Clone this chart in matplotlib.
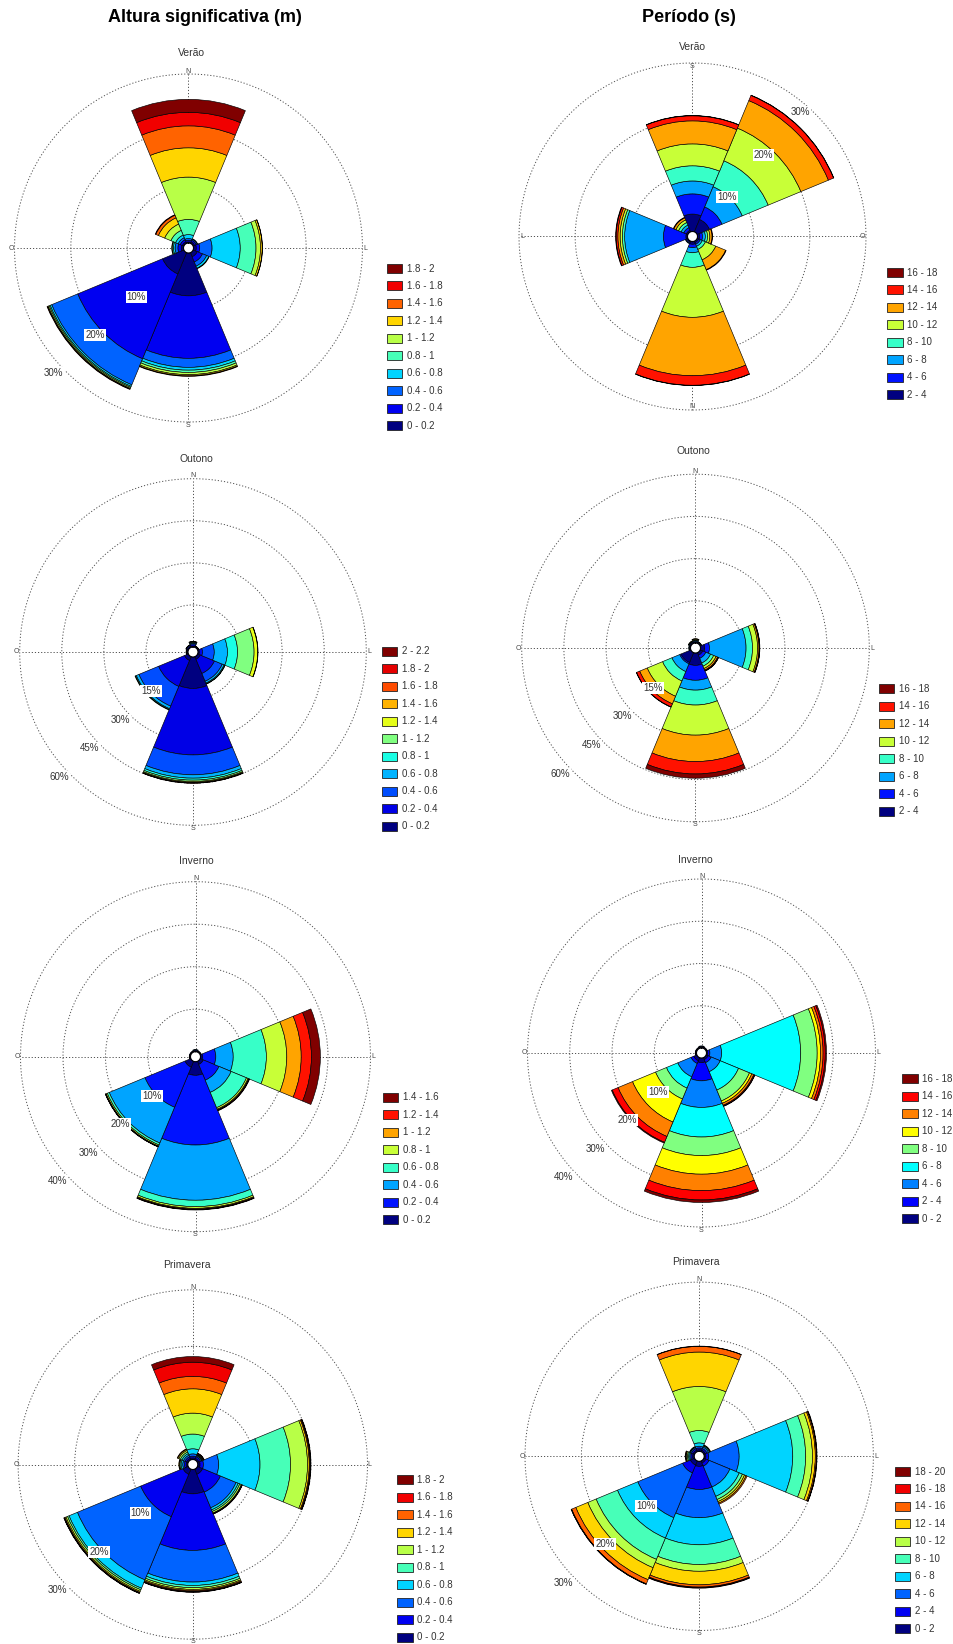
import numpy as np
import matplotlib
matplotlib.use('Agg')
import matplotlib.pyplot as plt
from matplotlib.patches import Patch

plt.rcParams['font.family'] = ['Liberation Sans', 'DejaVu Sans']

W, H = 954, 1644
fig = plt.figure(figsize=(W / 100, H / 100), dpi=100)
fig.patch.set_facecolor('white')

# Sector centres (compass bearing, degrees): N, NE, E, SE, S, SW, W, NW
directions = [0, 45, 90, 135, 180, 225, 270, 315]

# Class labels
hs_bins_10 = ['0 - 0.2', '0.2 - 0.4', '0.4 - 0.6', '0.6 - 0.8', '0.8 - 1',
              '1 - 1.2', '1.2 - 1.4', '1.4 - 1.6', '1.6 - 1.8', '1.8 - 2']
hs_bins_11 = hs_bins_10 + ['2 - 2.2']
hs_bins_8 = hs_bins_10[:8]
tp_bins_2_18 = ['2 - 4', '4 - 6', '6 - 8', '8 - 10', '10 - 12', '12 - 14',
                '14 - 16', '16 - 18']
tp_bins_0_18 = ['0 - 2'] + tp_bins_2_18
tp_bins_0_20 = tp_bins_0_18 + ['18 - 20']

# Frequencies (%) per direction (rows N..NW) and class (columns)
hs_verao = [
    [0.2, 0.3, 0.3, 0.7, 2.7, 7.5, 5.2, 3.9, 2.4, 2.3],
    [0.3, 0.3, 0.2, 0.1, 0, 0, 0, 0, 0, 0],
    [0.5, 0.6, 2.2, 5.0, 2.8, 0.8, 0.3, 0.05, 0, 0],
    [0.8, 1.0, 0.8, 0.4, 0.1, 0, 0, 0, 0, 0],
    [7.6, 11.1, 1.6, 0.5, 0.4, 0.4, 0.2, 0.1, 0, 0],
    [4.1, 16.3, 5.0, 0.3, 0.2, 0.2, 0.1, 0.1, 0, 0],
    [0.4, 0.6, 0.5, 0.3, 0.2, 0.1, 0, 0, 0, 0],
    [0.3, 0.4, 0.4, 0.5, 0.9, 1.2, 1.2, 0.5, 0.1, 0],
]
tp_verao = [
    [0.5, 0.6, 0.9, 2.6, 8.9, 10.4, 1.7, 0.05],
    [0.2, 0.2, 0.1, 0, 0, 0, 0, 0],
    [0.3, 4.0, 6.9, 0.4, 0.4, 0.4, 0.3, 0.1],
    [0.3, 0.5, 0.5, 0.5, 0.5, 0.4, 0.1, 0],
    [3.1, 3.6, 2.3, 2.7, 3.9, 4.1, 0.9, 0.05],
    [2.4, 2.4, 3.9, 5.0, 6.3, 5.3, 1.0, 0.05],
    [0.4, 0.5, 0.5, 0.4, 0.4, 0.4, 0.1, 0],
    [0.3, 0.3, 0.4, 0.6, 2.0, 1.9, 0.1, 0],
]
hs_outono = [
    [0.3, 0.5, 0.4, 0.3, 0.2, 0.2, 0.1, 0, 0, 0, 0],
    [0.2, 0.2, 0.1, 0, 0, 0, 0, 0, 0, 0, 0],
    [0.5, 1.1, 4.2, 4.7, 3.6, 5.9, 1.3, 0.1, 0, 0, 0],
    [1.0, 5.5, 3.0, 0.7, 0.3, 0.1, 0, 0, 0, 0, 0],
    [11.2, 23.7, 7.1, 1.2, 0.7, 0.5, 0.3, 0.2, 0.1, 0, 0],
    [1.5, 10.0, 7.6, 1.0, 0.3, 0.2, 0, 0, 0, 0, 0],
    [0.3, 0.3, 0.1, 0, 0, 0, 0, 0, 0, 0, 0],
    [0.3, 0.4, 0.2, 0.1, 0, 0, 0, 0, 0, 0, 0],
]
tp_outono = [
    [0.3, 0.3, 0.3, 0.2, 0.3, 0.1, 0, 0],
    [0.3, 0.2, 0.1, 0, 0, 0, 0, 0],
    [1.5, 1.7, 13.0, 2.3, 1.8, 0.5, 0.2, 0.1],
    [1.0, 1.2, 1.8, 1.2, 0.9, 0.6, 0.3, 0.1],
    [4.4, 5.3, 3.5, 5.3, 10.7, 9.4, 4.4, 1.5],
    [3.8, 0.5, 3.0, 3.6, 5.9, 2.9, 1.2, 0.1],
    [0.3, 0.2, 0.1, 0, 0, 0, 0, 0],
    [0.3, 0.3, 0.2, 0.1, 0.1, 0, 0, 0],
]
hs_inverno = [
    [0.2, 0.2, 0.1, 0, 0, 0, 0, 0],
    [0.2, 0.1, 0, 0, 0, 0, 0, 0],
    [0.5, 3.1, 4.1, 7.8, 4.8, 3.4, 2.4, 2.1],
    [0.8, 4.0, 3.1, 3.9, 0.4, 0.2, 0.1, 0.1],
    [3.2, 16.4, 13.0, 1.5, 0.4, 0.2, 0.1, 0.1],
    [1.5, 10.2, 9.1, 0.5, 0.3, 0.1, 0.05, 0.05],
    [0.2, 0.1, 0, 0, 0, 0, 0, 0],
    [0.2, 0.1, 0, 0, 0, 0, 0, 0],
]
tp_inverno = [
    [0.2, 0.2, 0.1, 0, 0, 0, 0, 0, 0],
    [0.2, 0.1, 0, 0, 0, 0, 0, 0, 0],
    [0.3, 0.5, 2.8, 18.7, 3.9, 0.8, 0.6, 0.5, 0.3],
    [0.5, 0.8, 2.3, 4.7, 2.8, 0.6, 0.5, 0.2, 0.1],
    [1.1, 4.3, 6.3, 7.0, 4.4, 4.4, 3.9, 2.2, 0.6],
    [0.8, 0.7, 3.4, 2.9, 2.8, 5.9, 3.7, 1.5, 0.2],
    [0.2, 0.1, 0, 0, 0, 0, 0, 0, 0],
    [0.2, 0.1, 0, 0, 0, 0, 0, 0, 0],
]
hs_primavera = [
    [0.3, 0.3, 0.4, 0.9, 2.6, 3.7, 4.3, 2.2, 2.5, 1.0],
    [0.3, 0.3, 0.2, 0.1, 0.1, 0.1, 0.1, 0.05, 0.05, 0],
    [0.4, 0.6, 2.7, 7.3, 5.4, 3.0, 0.3, 0.15, 0.1, 0.05],
    [1.0, 3.4, 3.0, 0.4, 0.3, 0.3, 0.1, 0.05, 0.05, 0],
    [4.3, 10.0, 5.6, 0.6, 0.4, 0.3, 0.2, 0.15, 0.1, 0.05],
    [1.0, 8.1, 12.1, 1.6, 0.3, 0.3, 0.2, 0.1, 0.05, 0.05],
    [0.3, 0.3, 0.3, 0.3, 0.2, 0.1, 0.1, 0, 0, 0],
    [0.3, 0.3, 0.3, 0.3, 0.3, 0.3, 0.2, 0.1, 0, 0],
]
tp_primavera = [
    [0.3, 0.3, 0.3, 0.6, 2.2, 7.8, 6.1, 1.0, 0.05, 0],
    [0.3, 0.3, 0.3, 0.2, 0.1, 0.1, 0, 0, 0, 0],
    [0.3, 0.5, 5.4, 9.5, 2.3, 1.2, 0.5, 0.2, 0.05, 0.05],
    [0.4, 0.6, 4.0, 1.8, 0.6, 0.4, 0.3, 0.2, 0, 0],
    [0.9, 4.1, 5.0, 4.8, 3.5, 1.2, 2.4, 0.4, 0.1, 0.1],
    [0.8, 1.5, 8.6, 3.9, 4.1, 1.6, 2.3, 0.8, 0.05, 0.05],
    [0.3, 0.3, 0.2, 0.2, 0.2, 0.2, 0.1, 0.1, 0, 0],
    [0.3, 0.3, 0.2, 0.1, 0.1, 0, 0, 0, 0, 0],
]

GRID_COLOR = '#505050'
DOTS = (0, (1.2, 2.0))


def jet_classic(n):
    """Classic piecewise-linear jet palette sampled at n evenly spaced points."""
    x = np.linspace(0, 1, n)
    r = np.interp(x, [0, 0.375, 0.625, 0.875, 1], [0, 0, 1, 1, 0.5])
    g = np.interp(x, [0, 0.125, 0.375, 0.625, 0.875, 1], [0, 0, 1, 1, 0, 0])
    b = np.interp(x, [0, 0.125, 0.375, 0.625, 1], [0.5, 1, 1, 0, 0])
    return np.column_stack([r, g, b])


def px_rect(cx, cy, r):
    return [(cx - r) / W, 1 - (cy + r) / H, 2 * r / W, 2 * r / H]


def rose(cx, cy, R, rmax, rings, freqs, bins, title, title_xy, legend_xy,
         label_angle, label_off_px, zero='N', compass_off_px=3.0):
    ax = fig.add_axes(px_rect(cx, cy, R), projection='polar')
    ax.set_theta_zero_location(zero)
    ax.set_theta_direction(-1)
    hole = 5.0 / R
    ax.set_ylim(0, rmax)
    ax.set_rorigin(-rmax * hole / (1 - hole))
    ax.set_axisbelow(True)
    pct_per_px = rmax / (R * (1 - hole))

    ax.set_rgrids(rings, labels=[''] * len(rings))
    ax.set_thetagrids([0, 90, 180, 270], labels=[''] * 4)
    ax.grid(True, color=GRID_COLOR, linestyle=DOTS, linewidth=0.7)
    ax.spines['polar'].set_visible(False)
    t = np.linspace(0, 2 * np.pi, 361)
    ax.plot(t, np.full_like(t, rmax), color=GRID_COLOR, linestyle=DOTS,
            linewidth=0.7, clip_on=False, zorder=1)

    # compass letters on the outer ring
    for ang, txt in zip([0, 90, 180, 270], ['N', 'L', 'S', 'O']):
        ax.text(np.deg2rad(ang), rmax + compass_off_px * pct_per_px, txt,
                ha='center', va='center', fontsize=5, color='#444444',
                clip_on=False, zorder=6)

    data = np.array(freqs, dtype=float)
    nb = data.shape[1]
    colors = jet_classic(nb)
    theta = np.deg2rad(directions)
    bottoms = np.zeros(len(directions))
    for j in range(nb):
        h = data[:, j]
        m = h > 0
        ax.bar(theta[m], h[m], width=np.deg2rad(45), bottom=bottoms[m],
               color=colors[j], edgecolor='black', linewidth=0.45, zorder=3)
        bottoms += h

    # central hole outline
    ax.plot(t, np.zeros_like(t), color='black', lw=0.9, zorder=4)

    # percentage labels on the rings
    for v in rings + [rmax]:
        ax.text(np.deg2rad(label_angle), v + label_off_px * pct_per_px,
                f'{v}%', ha='center', va='center', fontsize=7,
                color='#333333', zorder=5, clip_on=False,
                bbox=dict(facecolor='white', edgecolor='none', pad=0.8))

    fig.text(title_xy[0] / W, 1 - title_xy[1] / H, title, ha='center',
             va='center', fontsize=7.5, color='#333333')

    handles = [Patch(facecolor=colors[j], edgecolor='#222222', linewidth=0.6)
               for j in range(nb)][::-1]
    ax.legend(handles, bins[::-1], loc='upper left',
              bbox_to_anchor=(legend_xy[0] / W, 1 - legend_xy[1] / H),
              bbox_transform=fig.transFigure, frameon=False, fontsize=7,
              handlelength=1.6, handleheight=1.05, labelspacing=0.77,
              handletextpad=0.45, borderpad=0, borderaxespad=0,
              labelcolor='#333333')
    return ax


rose(188.5, 248, 174, 30, [10, 20], hs_verao, hs_bins_10, 'Verão',
     (191.7, 52.7), (386.7, 263.5), 227, 10)
rose(692.5, 236.5, 173.5, 30, [10, 20], tp_verao, tp_bins_2_18, 'Verão',
     (692, 46.7), (887, 267.5), 221, -9, zero='S', compass_off_px=-3.5)
rose(193, 652, 173.3, 60, [15, 30, 45], hs_outono, hs_bins_11, 'Outono',
     (196.7, 459), (381.7, 646.5), 227, 10)
rose(695.5, 648, 173.8, 60, [15, 30, 45], tp_outono, tp_bins_2_18, 'Outono',
     (693.7, 451), (878.7, 684), 227, 11)
rose(195.5, 1056.7, 175, 40, [10, 20, 30], hs_inverno, hs_bins_8, 'Inverno',
     (196, 860.7), (382.7, 1092.5), 228, 11)
rose(701.5, 1053, 174, 40, [10, 20, 30], tp_inverno, tp_bins_0_18, 'Inverno',
     (695.3, 860), (902, 1074), 228, 11)
rose(192.8, 1464.5, 174.7, 30, [10, 20], hs_primavera, hs_bins_10,
     'Primavera', (186.7, 1265), (397.3, 1475), 227, 10, compass_off_px=2.0)
rose(699.2, 1456.3, 174.2, 30, [10, 20], tp_primavera, tp_bins_0_20,
     'Primavera', (696.3, 1261.7), (894.7, 1466.5), 227, 11)

fig.text(205 / W, 1 - 18 / H, 'Altura significativa (m)', ha='center',
         va='center', fontsize=13, fontweight='bold')
fig.text(689 / W, 1 - 18 / H, 'Período (s)', ha='center', va='center',
         fontsize=13, fontweight='bold')

fig.savefig('out.png', dpi=100, facecolor='white')
